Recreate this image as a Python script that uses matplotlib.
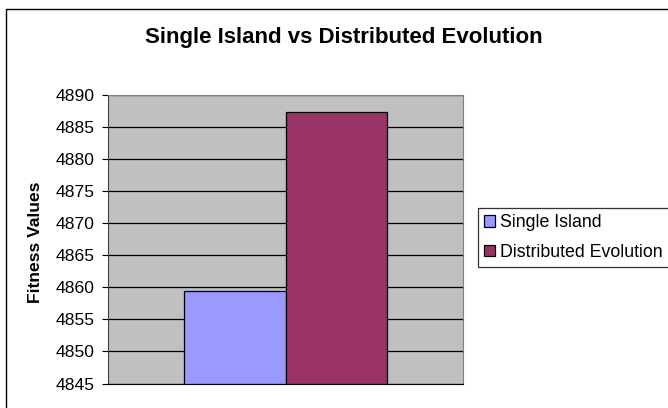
import matplotlib.pyplot as plt
from matplotlib.patches import Rectangle

plt.rcParams['font.family'] = ['Liberation Sans', 'DejaVu Sans']

series = ['Single Island', 'Distributed Evolution']
values = [4859.5, 4887.4]
colors = ['#9999FF', '#993366']
yticks = [4845, 4850, 4855, 4860, 4865, 4870, 4875, 4880, 4885, 4890]

W, H = 668, 408
fig = plt.figure(figsize=(W / 100, H / 100), dpi=100)

# outer chart frame
fig.patches.append(Rectangle((6 / W, -0.05), 1.0, 1 - 9 / H + 0.05,
                             transform=fig.transFigure, fill=False,
                             edgecolor='black', linewidth=1.0))

ax = fig.add_axes([108.3 / W, 1 - 383.5 / H, (463 - 108.3) / W, (383.5 - 95) / H])
ax.set_facecolor('#C0C0C0')

for i, (name, v, c) in enumerate(zip(series, values, colors)):
    x = -0.5 + i
    ax.bar(x, v - yticks[0], bottom=yticks[0], width=1.0, color=c,
           edgecolor='black', linewidth=0.9, label=name, zorder=3)

ax.set_ylim(yticks[0], yticks[-1])
ax.set_xlim(-1.745, 1.745)
ax.set_yticks(yticks)
ax.set_xticks([])
ax.yaxis.grid(True, color='black', linewidth=0.9, zorder=1)
ax.set_axisbelow(True)
ax.tick_params(axis='y', labelsize=12.6, length=4.3, width=0.8, pad=5.5)

for side in ['top', 'right']:
    ax.spines[side].set_color('#808080')
ax.spines['left'].set_color('#404040')
ax.spines['bottom'].set_color('black')

fig.text(36 / W, 1 - 242 / H, 'Fitness Values', rotation=90,
         ha='center', va='center', fontsize=12.6, fontweight='bold')

fig.text(344 / W, 1 - 37 / H, 'Single Island vs Distributed Evolution',
         ha='center', va='center', fontsize=16, fontweight='bold')

leg = fig.legend(loc='upper left', bbox_to_anchor=(478 / W, 1 - 208 / H),
                 fontsize=12.8, frameon=True, fancybox=False, edgecolor='black',
                 handlelength=0.6, handleheight=0.6, handletextpad=0.3,
                 borderpad=0.35, labelspacing=0.7, borderaxespad=0)
leg.get_frame().set_linewidth(0.9)

fig.savefig('out.png', dpi=100)
